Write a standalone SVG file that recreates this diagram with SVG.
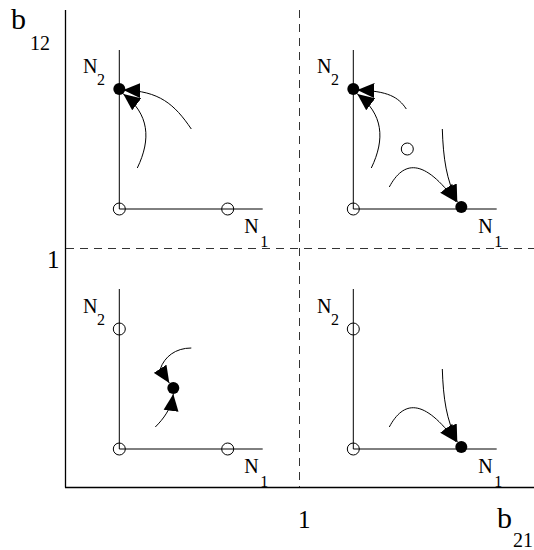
<svg xmlns="http://www.w3.org/2000/svg" width="534" height="550" viewBox="0 0 534 550">
<defs>
<style>
.ax{stroke:#000;stroke-width:1.3;fill:none}
.pax{stroke:#000;stroke-width:1;fill:none}
.dash{stroke:#333;stroke-width:1;stroke-dasharray:8,6;fill:none}
.tr{stroke:#000;stroke-width:1;fill:none;marker-end:url(#ah)}
.open{fill:none;stroke:#000;stroke-width:1}
.fill{fill:#000}
text{font-family:"Liberation Serif","Times New Roman",serif;fill:#000}
.big{font-size:30px}
.mid{font-size:25px}
.sub{font-size:20px}
.n{font-size:20px}
.ns{font-size:16px}
</style>
<marker id="ah" viewBox="0 -8 17 16" refX="17" refY="0" markerWidth="17" markerHeight="16" markerUnits="userSpaceOnUse" orient="auto">
<path d="M0,-7.5 L17,0 L0,7.5 z" fill="#000"/>
</marker>
</defs>
<rect width="534" height="550" fill="#fff"/>
<g id="frame">
<line class="ax" x1="65.5" y1="10" x2="65.5" y2="487.5"/>
<line class="ax" x1="65" y1="487.5" x2="534" y2="487.5"/>
<line class="dash" x1="299.5" y1="10" x2="299.5" y2="487"/>
<line class="dash" x1="66" y1="248.5" x2="534" y2="248.5"/>
<text class="big" x="11" y="29">b</text>
<text class="sub" x="30" y="50">12</text>
<text class="mid" x="47" y="268">1</text>
<text class="mid" x="298" y="528">1</text>
<text class="big" x="497" y="528">b</text>
<text class="sub" x="513" y="547" font-size="19">21</text>
</g>
<g id="panel-tl" transform="translate(119.3,209)">
<line class="pax" x1="0" y1="-159" x2="0" y2="0"/>
<line class="pax" x1="0" y1="0" x2="143.4" y2="0"/>
<text class="n" x="-36.3" y="-136">N</text><text class="ns" x="-22.3" y="-124">2</text>
<text class="n" x="125" y="24">N</text><text class="ns" x="141" y="38">1</text>
<g id="tl-points">
<circle class="open" cx="0" cy="0" r="6"/>
<circle class="open" cx="108.4" cy="0" r="6"/>
<circle class="fill" cx="0" cy="-120" r="6"/>
</g>
<g id="tl-connectors">
<path class="tr" d="M72,-80 C55,-105 40,-118 4,-119"/>
<path class="tr" d="M18,-41 C32,-70 30,-95 4,-115"/>
</g>
</g>
<g id="panel-tr" transform="translate(353.3,209)">
<line class="pax" x1="0" y1="-159" x2="0" y2="0"/>
<line class="pax" x1="0" y1="0" x2="143.4" y2="0"/>
<text class="n" x="-36.3" y="-136">N</text><text class="ns" x="-22.3" y="-124">2</text>
<text class="n" x="125" y="24">N</text><text class="ns" x="141" y="38">1</text>
<g id="tr-points">
<circle class="open" cx="0" cy="0" r="6"/>
<circle class="fill" cx="0" cy="-120" r="6"/>
<circle class="open" cx="54" cy="-60" r="6"/>
<circle class="fill" cx="108" cy="-2" r="6"/>
</g>
<g id="tr-connectors">
<path class="tr" d="M53,-100 C45,-112 35,-118 4,-119"/>
<path class="tr" d="M18,-41 C32,-70 30,-95 4,-115"/>
<path class="tr" d="M89,-80 C90,-50 93,-30 104,-7"/>
<path class="tr" d="M36,-22 C50,-48 70,-52 103,-7"/>
</g>
</g>
<g id="panel-bl" transform="translate(119.3,449)">
<line class="pax" x1="0" y1="-160" x2="0" y2="0"/>
<line class="pax" x1="0" y1="0" x2="143.4" y2="0"/>
<text class="n" x="-36.3" y="-136">N</text><text class="ns" x="-22.3" y="-124">2</text>
<text class="n" x="125" y="24">N</text><text class="ns" x="141" y="38">1</text>
<g id="bl-points">
<circle class="open" cx="0" cy="0" r="6"/>
<circle class="open" cx="108.4" cy="0" r="6"/>
<circle class="open" cx="0" cy="-120" r="6"/>
<circle class="fill" cx="54" cy="-61" r="6"/>
</g>
<g id="bl-connectors">
<path class="tr" d="M72,-101 C56,-101 45,-92 41,-80 L50,-66"/>
<path class="tr" d="M36,-22 C44,-30 52,-40 54,-55"/>
</g>
</g>
<g id="panel-br" transform="translate(353.3,449)">
<line class="pax" x1="0" y1="-160" x2="0" y2="0"/>
<line class="pax" x1="0" y1="0" x2="143.4" y2="0"/>
<text class="n" x="-36.3" y="-136">N</text><text class="ns" x="-22.3" y="-124">2</text>
<text class="n" x="125" y="24">N</text><text class="ns" x="141" y="38">1</text>
<g id="br-points">
<circle class="open" cx="0" cy="0" r="6"/>
<circle class="open" cx="0" cy="-120" r="6"/>
<circle class="fill" cx="108" cy="-2" r="6"/>
</g>
<g id="br-connectors">
<path class="tr" d="M89,-80 C90,-50 93,-30 104,-7"/>
<path class="tr" d="M36,-22 C50,-48 70,-52 103,-7"/>
</g>
</g>
</svg>
